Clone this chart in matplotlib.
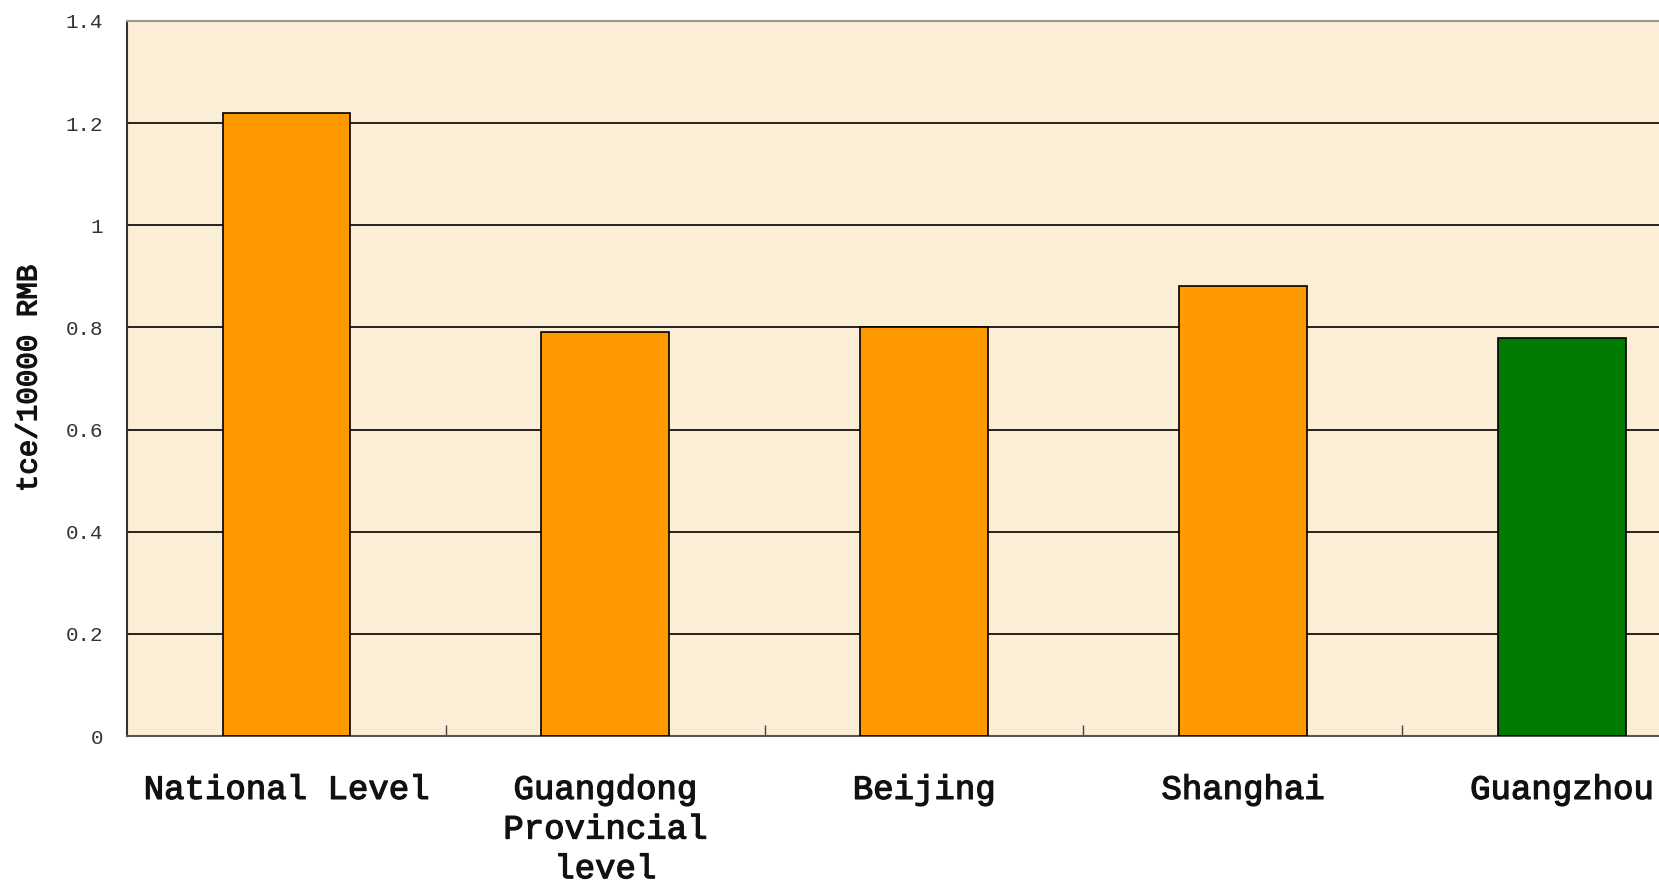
import matplotlib
matplotlib.use("Agg")
import matplotlib.pyplot as plt
import matplotlib.patheffects as pe

categories = ["National Level", "Guangdong\nProvincial\nlevel", "Beijing", "Shanghai", "Guangzhou"]
values = [1.22, 0.79, 0.80, 0.88, 0.78]
bar_colors = ["#FF9900", "#FF9900", "#FF9900", "#FF9900", "#007A00"]
y_ticks = [0, 0.2, 0.4, 0.6, 0.8, 1.0, 1.2, 1.4]
y_tick_labels = ["0", "0.2", "0.4", "0.6", "0.8", "1", "1.2", "1.4"]

mono = "Liberation Mono"
# a thin outline makes the regular face look a bit heavier, like the original
heavier = [pe.withStroke(linewidth=0.9, foreground="#111111")]

fig = plt.figure(figsize=(16.59, 8.84), dpi=100)
# the plot area runs past the right edge, as in the cropped original
ax = fig.add_axes([0.0765, 0.1674, 0.961, 0.809])
ax.set_facecolor("#FCEED6")

x = list(range(len(categories)))
ax.bar(x, values, width=0.4, color=bar_colors, edgecolor="black", linewidth=1.2, zorder=3)

ax.set_xlim(-0.5, len(categories) - 0.5)
ax.set_ylim(0, 1.4)
ax.set_yticks(y_ticks)
ax.set_yticklabels(y_tick_labels, fontfamily=mono, fontsize=15, color="#333333")
ax.yaxis.grid(True, color="black", linewidth=1.2, zorder=1)
ax.set_axisbelow(True)
ax.tick_params(axis="y", length=0, pad=17)

ax.set_xticks(x)
ax.set_xticklabels(categories, fontfamily=mono, fontsize=24.5,
                   linespacing=1.36, va="top", color="#111111")
for lbl in ax.get_xticklabels():
    lbl.set_path_effects(heavier)
ax.tick_params(axis="x", which="major", length=0, pad=28)
ax.set_xticks([i + 0.5 for i in x[:-1]], minor=True)
ax.tick_params(axis="x", which="minor", direction="in", length=8, width=1, color="#444444")

ax.set_ylabel("tce/10000 RMB", fontfamily=mono, fontsize=21, color="#111111",
              path_effects=heavier)
ax.yaxis.set_label_coords(-0.053, 0.5)

for side in ["top", "right"]:
    ax.spines[side].set_color("#999990")
    ax.spines[side].set_linewidth(1.5)
ax.spines["left"].set_color("#333333")
ax.spines["left"].set_linewidth(1.5)
ax.spines["bottom"].set_color("#555555")
ax.spines["bottom"].set_linewidth(1.5)

fig.savefig("out.png", dpi=100, facecolor="white")
